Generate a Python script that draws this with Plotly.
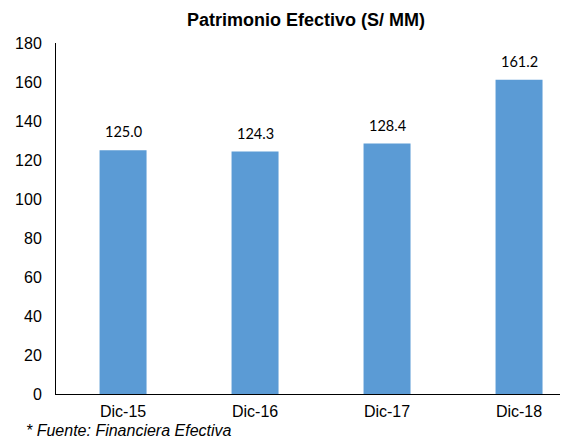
import plotly.graph_objects as go

categories = ["Dic-15", "Dic-16", "Dic-17", "Dic-18"]
values = [125.0, 124.3, 128.4, 161.2]
y_ticks = [0, 20, 40, 60, 80, 100, 120, 140, 160, 180]

W, H = 560, 432
L, R, T, B = 48, 0, 35, 46
PW = W - L - R

fig = go.Figure()
fig.add_trace(go.Bar(
    x=list(range(len(categories))), y=values,
    marker=dict(color="#5B9BD5", line=dict(width=0)),
    width=0.356,
))
for i, v in enumerate(values):
    fig.add_annotation(x=i, y=v, text=f"{v:.1f}", showarrow=False,
                       yanchor="bottom", yshift=8,
                       font=dict(family="Lato, Open Sans, sans-serif", size=14.5, color="#000"))

fig.add_annotation(xref="paper", yref="paper", x=(298 - L) / PW, y=1, yanchor="middle", yshift=23,
                   text="<b>Patrimonio Efectivo (S/ MM)</b>", showarrow=False,
                   font=dict(family="Liberation Sans, Arial", size=18, color="#000"))
fig.add_annotation(xref="paper", yref="paper", x=(16 - L) / PW, xanchor="left", y=0, yanchor="middle",
                   yshift=-36,
                   text="<i>* Fuente: Financiera Efectiva</i>", showarrow=False,
                   font=dict(family="Liberation Sans, Arial", size=16, color="#000"))

fig.update_layout(
    width=W, height=H,
    margin=dict(l=L, r=R, t=T, b=B),
    plot_bgcolor="white", paper_bgcolor="white",
    showlegend=False,
    font=dict(family="Liberation Sans, Arial", size=16, color="#000"),
)
fig.update_xaxes(range=[-0.508, 3.371], tickvals=list(range(len(categories))), ticktext=categories,
                 showline=True, linecolor="#000", linewidth=1, showgrid=False, ticks="",
                 zeroline=False, ticklabelstandoff=3)
fig.update_yaxes(range=[0, 180], tickvals=y_ticks, showline=True, linecolor="#000", linewidth=1,
                 showgrid=False, zeroline=False, ticks="", ticklabelstandoff=10)

fig.write_html("out.html")
